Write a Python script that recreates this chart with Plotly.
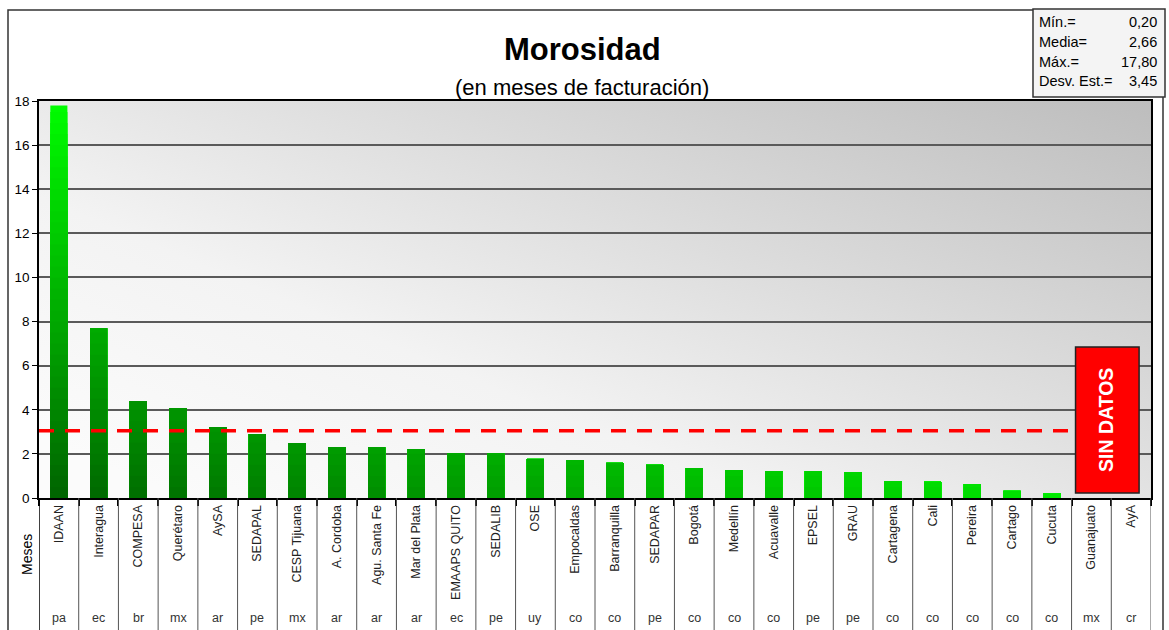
import base64
import numpy as np
import plotly.graph_objects as go

# ---------------- data ----------------
categories = ["IDAAN", "Interagua", "COMPESA", "Querétaro", "AySA", "SEDAPAL",
              "CESP Tijuana", "A. Cordoba", "Agu. Santa Fe", "Mar del Plata",
              "EMAAPS QUITO", "SEDALIB", "OSE", "Empocaldas", "Barranquilla",
              "SEDAPAR", "Bogotá", "Medellín", "Acuavalle", "EPSEL", "GRAU",
              "Cartagena", "Cali", "Pereira", "Cartago", "Cucuta", "Guanajuato", "AyA"]
countries = ["pa", "ec", "br", "mx", "ar", "pe", "mx", "ar", "ar", "ar", "ec", "pe",
             "uy", "co", "co", "pe", "co", "co", "co", "pe", "pe", "co", "co", "co",
             "co", "co", "mx", "cr"]
values = [17.8, 7.7, 4.4, 4.08, 3.22, 2.9, 2.49, 2.31, 2.3, 2.22, 2.04, 2.03,
          1.77, 1.72, 1.59, 1.5, 1.36, 1.27, 1.22, 1.22, 1.18, 0.77, 0.73, 0.63,
          0.32, 0.2, None, None]
reference_value = 3.05
stats_labels = ["Mín.=", "Media=", "Máx.=", "Desv. Est.="]
stats_values = ["0,20", "2,66", "17,80", "3,45"]
no_data_text = "SIN DATOS"

# ---------------- layout constants ----------------
W, H = 1169, 630
L, R, T, B = 39, 18, 101, 132
PW, PH = W - L - R, H - T - B
FONT = "Liberation Sans, Arial, sans-serif"


def px(xp):
    return (xp - L) / PW


def py(yp):
    return (H - B - yp) / PH


def green(i, y):
    g = min(255, 100 + 5.2 * i + 8.6 * y)
    return "rgb(0,%d,0)" % int(g)


fig = go.Figure()

# gradient bars built as overlaid slices
step = 0.5
levels = np.arange(18.0, 0.0, -step)
for lev in levels:
    ys = [None if v is None else min(v, lev) for v in values]
    cols = [green(i, lev - step / 2) for i in range(len(values))]
    fig.add_trace(go.Bar(x=categories, y=ys, marker=dict(color=cols, line=dict(width=0)),
                         width=0.43, hoverinfo="skip", showlegend=False))

# background gradient
svg = ("<svg xmlns='http://www.w3.org/2000/svg' width='400' height='200' preserveAspectRatio='none'>"
       "<defs><linearGradient id='g' x1='0' y1='0.85' x2='1' y2='0'>"
       "<stop offset='0' stop-color='#fbfbfb'/><stop offset='0.3' stop-color='#f3f3f3'/>"
       "<stop offset='1' stop-color='#bdbdbd'/></linearGradient></defs>"
       "<rect width='400' height='200' fill='url(#g)'/></svg>")
src = "data:image/svg+xml;base64," + base64.b64encode(svg.encode()).decode()

shapes = []
# outer frame
shapes.append(dict(type="rect", xref="paper", yref="paper", x0=px(8), x1=px(1163), y0=py(660), y1=py(10),
                   line=dict(color="#333", width=1.5), fillcolor="rgba(0,0,0,0)", layer="below"))
# table separators below plot
n = len(categories)
for k in range(n + 1):
    shapes.append(dict(type="line", xref="x", yref="paper", x0=k - 0.5, x1=k - 0.5, y0=0, y1=py(660),
                       line=dict(color="#000" if k == 0 else "#555", width=1.5 if k == 0 else 1)))
# reference dashed line
shapes.append(dict(type="line", xref="x", yref="y", x0=-0.5, x1=len([v for v in values if v is not None]) - 0.5,
                   y0=reference_value, y1=reference_value,
                   line=dict(color="#ff0000", width=3.5, dash="15px,11px")))
# SIN DATOS box
shapes.append(dict(type="rect", xref="x", yref="y", x0=25.6, x1=27.2, y0=0.23, y1=6.85,
                   fillcolor="#ff0000", line=dict(color="#222", width=1.5)))
# stats box
shapes.append(dict(type="rect", xref="paper", yref="paper", x0=px(1033), x1=px(1165), y0=py(97), y1=py(9),
                   fillcolor="#f4f4f4", line=dict(color="#333", width=1.5)))

ann = []


def add_text(text, x, y, size, color="#000", xanchor="center", xref="paper", yref="paper", angle=0):
    ann.append(dict(text=text, xref=xref, yref=yref, x=x, y=y, xanchor=xanchor, yanchor="middle",
                    textangle=angle, showarrow=False, font=dict(size=size, color=color, family=FONT)))


add_text("<b>Morosidad</b>", px(582), py(50), 31)
add_text("(en meses de facturación)", px(582), py(87), 22)
add_text("Meses", px(27), py(555), 14, angle=-90)
for c, code in zip(categories, countries):
    add_text(code, c, py(618), 12.5, color="#333", xref="x")
add_text("<b>" + no_data_text + "</b>", 26.35, 3.55, 19.5, color="#fff", xref="x", yref="y", angle=-90)
rows_y = [22, 42, 62, 81]
for lab, val, yy in zip(stats_labels, stats_values, rows_y):
    add_text(lab, px(1037), py(yy), 14.5, xanchor="left")
    add_text(val, px(1159), py(yy), 14.5, xanchor="right")

fig.update_layout(
    width=W, height=H, autosize=False,
    margin=dict(l=L, r=R, t=T, b=B, pad=0),
    paper_bgcolor="#ffffff", plot_bgcolor="#eeeeee",
    barmode="overlay", showlegend=False,
    font=dict(family=FONT, color="#000"),
    images=[dict(source=src, xref="paper", yref="paper", x=0, y=1, sizex=1, sizey=1,
                 xanchor="left", yanchor="top", sizing="stretch", layer="below")],
    shapes=shapes, annotations=ann,
    xaxis=dict(type="category", range=[-0.5, n - 0.5], showline=True, linecolor="#000", linewidth=2,
               mirror=True, ticks="outside", tickson="boundaries", ticklen=6, tickcolor="#000",
               tickwidth=1.5, tickangle=-90, tickfont=dict(size=12.5, color="#222", family=FONT),
               showgrid=False, fixedrange=True),
    yaxis=dict(range=[0, 18], dtick=2, showgrid=True, gridcolor="#5a5a5a", gridwidth=1.5,
               showline=True, linecolor="#000", linewidth=1.5, mirror=True, ticks="outside",
               ticklen=5, tickcolor="#000", tickfont=dict(size=13.5, color="#000", family=FONT),
               zeroline=False, fixedrange=True),
)

fig.write_html("out.html", config={"displayModeBar": False},
               post_script="document.body.style.margin='0';document.body.style.overflow='hidden';")
